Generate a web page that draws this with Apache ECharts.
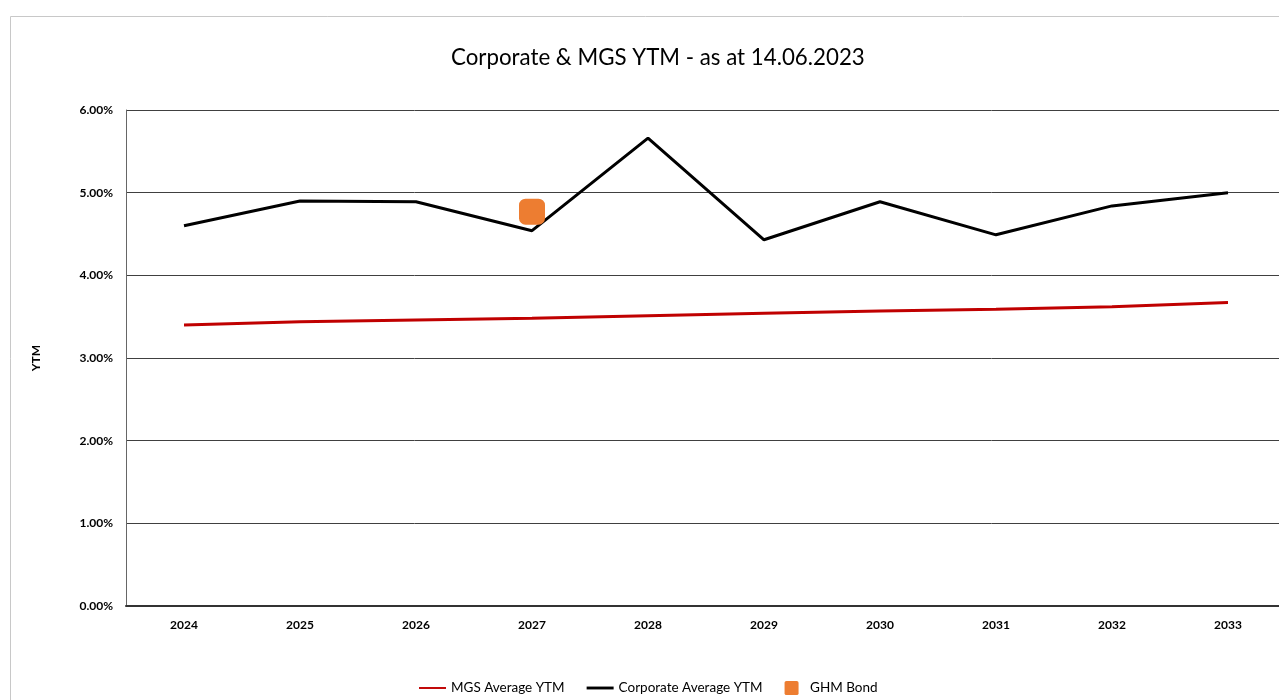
<!DOCTYPE html>
<html>
<head>
<meta charset="utf-8">
<script src="https://cdn.jsdelivr.net/npm/echarts@6/dist/echarts.min.js"></script>
<style>
  html, body { margin: 0; padding: 0; background: #fff; }
  #chart { width: 1279px; height: 700px; }
</style>
</head>
<body>
<div id="chart"></div>
<script>
// data
var years = ['2024', '2025', '2026', '2027', '2028', '2029', '2030', '2031', '2032', '2033'];
var mgsYtm = [3.40, 3.44, 3.46, 3.48, 3.51, 3.54, 3.57, 3.59, 3.62, 3.67];
var corpYtm = [4.60, 4.90, 4.89, 4.54, 5.66, 4.43, 4.89, 4.49, 4.84, 5.00];
var ghmBond = [null, null, null, 4.77, null, null, null, null, null, null];

var myChart = echarts.init(document.getElementById('chart'));
var font = 'Lato, "Noto Sans", sans-serif';

var option = {
  animation: false,
  textStyle: { fontFamily: font },
  graphic: [
    {
      type: 'rect',
      shape: { x: 10.5, y: 16.5, width: 1300, height: 720 },
      style: { fill: 'none', stroke: '#c8c8c8', lineWidth: 1 }
    }
  ],
  title: {
    text: 'Corporate & MGS YTM - as at 14.06.2023',
    left: 446,
    top: 42,
    textStyle: { fontFamily: font, fontSize: 22.3, fontWeight: 'normal', color: '#000' }
  },
  legend: {
    bottom: 0,
    left: 414,
    itemGap: 22,
    itemWidth: 27,
    itemHeight: 14,
    textStyle: { fontFamily: font, fontSize: 13.5, color: '#000' },
    data: [
      { name: 'MGS Average YTM', icon: 'path://M0,6 L28,6 L28,8 L0,8 Z' },
      { name: 'Corporate Average YTM', icon: 'path://M0,5.5 L28,5.5 L28,8.5 L0,8.5 Z' },
      {
        name: 'GHM Bond',
        icon: 'path://M2,0 L13,0 Q15,0 15,2 L15,13 Q15,15 13,15 L2,15 Q0,15 0,13 L0,2 Q0,0 2,0 Z',
        itemStyle: { color: '#ed7d31', opacity: 1 }
      }
    ]
  },
  grid: { left: 126, top: 110, bottom: 94, right: -7, outerBoundsMode: 'none' },
  xAxis: {
    type: 'category',
    data: years,
    boundaryGap: true,
    axisLine: { lineStyle: { color: '#333', width: 2 } },
    axisTick: { show: false },
    axisLabel: { fontFamily: font, fontSize: 12, fontWeight: 'bold', color: '#000', margin: 13 }
  },
  yAxis: {
    type: 'value',
    min: 0,
    max: 6,
    interval: 1,
    name: 'YTM',
    nameLocation: 'middle',
    nameGap: 84,
    nameTextStyle: { fontFamily: font, fontSize: 12, fontWeight: 'bold', color: '#000' },
    axisLine: { show: true, lineStyle: { color: '#666', width: 1 } },
    axisTick: { show: false },
    axisLabel: {
      fontFamily: font, fontSize: 12, fontWeight: 'bold', color: '#000', margin: 13,
      formatter: function (v) { return v.toFixed(2) + '%'; }
    },
    splitLine: { lineStyle: { color: '#404040', width: 1 } }
  },
  series: [
    {
      name: 'MGS Average YTM',
      type: 'line',
      data: mgsYtm,
      showSymbol: false,
      symbol: 'none',
      itemStyle: { color: '#c00000' },
      lineStyle: { color: '#c00000', width: 3 }
    },
    {
      name: 'Corporate Average YTM',
      type: 'line',
      data: corpYtm,
      showSymbol: false,
      symbol: 'none',
      itemStyle: { color: '#000' },
      lineStyle: { color: '#000', width: 3 }
    },
    {
      name: 'GHM Bond',
      type: 'scatter',
      data: ghmBond,
      symbol: 'roundRect',
      symbolSize: 26,
      itemStyle: { color: '#ed7d31', opacity: 1 },
      z: 5
    }
  ]
};

myChart.setOption(option);
window.addEventListener('resize', function () {
  myChart.resize();
});
</script>
</body>
</html>
